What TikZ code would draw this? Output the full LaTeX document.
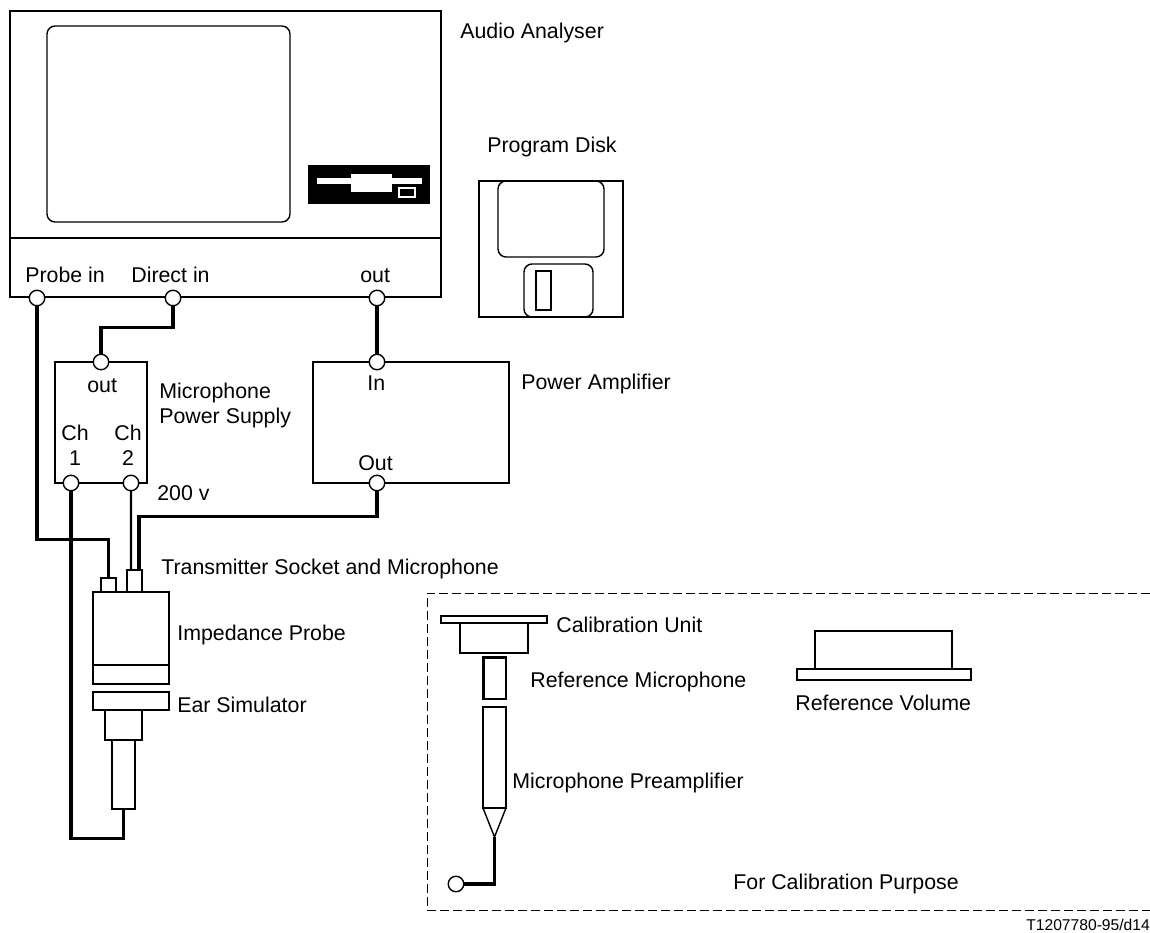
\documentclass[tikz,border=0pt]{standalone}
\usepackage{fontspec}
\setmainfont{Liberation Sans}
\usetikzlibrary{positioning}

\begin{document}
\begin{tikzpicture}[x=0.02cm, y=-0.02cm]

		\tikzstyle{part}=[rectangle, draw, line width=0.8pt, inner sep=0, outer sep=0]
		\tikzstyle{rnd}=[part, rounded corners=0.16cm]
		\tikzstyle{port}=[circle, draw, line width=0.8pt, fill=white, inner sep=0, outer sep=0, minimum size=0.31cm]
		\tikzstyle{wire}=[line width=1.9pt, line join=miter]
		\tikzstyle{lbl}=[anchor=base west, inner sep=0, yshift=-0.02cm, font=\fontsize{12.15}{14.2}\selectfont]

		\useasboundingbox (0,0) rectangle (1150,933);

		% Audio analyser
		\node[part, minimum width=8.62cm, minimum height=5.72cm] (analyser) at (225.5,154) {};
		\draw[line width=1.2pt] (analyser.west |- 0,238) -- (analyser.east |- 0,238);
		\node[rnd, minimum width=4.86cm, minimum height=3.92cm] (screen) at (168.5,124) {};
		\node[part, fill=black, minimum width=2.42cm, minimum height=0.76cm] (drive) at (369,184.5) {};
		\node[rectangle, fill=white, inner sep=0, minimum width=2.10cm, minimum height=0.12cm] (slit) at (369.5,181) {};
		\node[rectangle, fill=white, inner sep=0, minimum width=0.82cm, minimum height=0.36cm] (door) at (371.5,183) {};
		\node[rectangle, draw=white, fill=black, line width=0.6pt, inner sep=0, minimum width=0.32cm, minimum height=0.18cm] (led) at (407,192.5) {};

		% Program disk
		\node[part, minimum width=2.88cm, minimum height=2.72cm] (disk) at (551,249) {};
		\node[rnd, minimum width=2.12cm, minimum height=1.52cm] (label) at (551,219) {};
		\node[rnd, minimum width=1.38cm, minimum height=1.06cm] (shutter) at (558.5,290.5) {};
		\node[part, minimum width=0.30cm, minimum height=0.78cm] (slot) at (543.5,290.5) {};

		% Supply and amplifier
		\node[part, minimum width=1.84cm, minimum height=2.42cm] (supply) at (101,422.5) {};
		\node[part, minimum width=3.92cm, minimum height=2.42cm] (amp) at (411,422.5) {};

		% Probe and simulator
		\node[part, minimum width=0.30cm, minimum height=0.28cm] (plugp) at (108.5,585) {};
		\node[part, minimum width=0.30cm, minimum height=0.44cm] (plugt) at (134.5,581) {};
		\node[part, minimum width=1.52cm, minimum height=1.84cm] (probe) at (131,638) {};
		\draw[line width=1.6pt] (probe.west |- 0,665) -- (probe.east |- 0,665);
		\node[part, minimum width=1.52cm, minimum height=0.36cm] (ear) at (131,701) {};
		\node[part, minimum width=0.74cm, minimum height=0.60cm] (earneck) at (123.5,725) {};
		\node[part, minimum width=0.46cm, minimum height=1.38cm] (earstem) at (123.5,774.5) {};

		% Calibration parts
		\node[part, minimum width=2.12cm, minimum height=0.14cm] (calplate) at (494,619.5) {};
		\node[part, minimum width=1.36cm, minimum height=0.60cm] (calunit) at (494,638) {};
		\node[part, line width=1.7pt, minimum width=0.46cm, minimum height=0.84cm] (refmic) at (494.5,678) {};
		\node[part, minimum width=0.46cm, minimum height=2.02cm] (preamp) at (494.5,757.5) {};
		\coordinate (pretip) at (494.5,837);
		\draw[line width=0.8pt] (preamp.south west) -- (pretip) -- (preamp.south east);
		\node[part, minimum width=2.74cm, minimum height=0.76cm] (volume) at (883.5,650) {};
		\node[part, minimum width=3.48cm, minimum height=0.22cm] (volplate) at (884,674.5) {};

		% Frame, open on the right
		\draw[line width=0.5pt, dash pattern=on 5pt off 2.4pt] (1150,593) -- (427,593) -- (427,910) -- (1150,910);

		% Ports
		\node[port] (probein) at (37,298) {};
		\node[port] (directin) at (173,298) {};
		\node[port] (anaout) at (377,298) {};
		\node[port] (supout) at (101,362) {};
		\node[port] (ch1) at (71,483) {};
		\node[port] (ch2) at (131,483) {};
		\node[port] (ampin) at (377,362) {};
		\node[port] (ampout) at (377,483) {};
		\node[port] (calport) at (456,884) {};

		% Wires
		\draw[wire] (directin.south) -- ++(0,22) -| (supout.north);
		\draw[wire, line width=2.8pt] (anaout.south) -- (ampin.north);
		\draw[wire] (probein.south) -- ++(0,234) -| (plugp.north);
		\draw[wire] (ch1.south) -- ++(0,348) -| (earstem.south);
		\draw[wire, line width=1.2pt] (ch2.south) -- ([xshift=-0.07cm]plugt.north);
		\draw[wire] (ampout.south) -- ++(0,26) -| ([xshift=0.09cm]plugt.north);
		\draw[wire] (pretip) |- (calport.east);

		% Labels
		\node[lbl] (tanalyser) at (460,37) {Audio Analyser};
		\node[lbl] (tdisk) at (487,151) {Program Disk};
		\node[lbl] (tprobein) at (25,281) {Probe in};
		\node[lbl] (tdirectin) at (131,281) {Direct in};
		\node[lbl] (tanaout) at (360,281) {out};
		\node[lbl] (tsupout) at (87,391) {out};
		\node[lbl, align=left] (tsupply) at (159,422) {Microphone\\Power Supply};
		\node[lbl, align=center] (tch1) at (61,464) {Ch\\1};
		\node[lbl, align=center] (tch2) at (114,464) {Ch\\2};
		\node[lbl] (tvolt) at (157,499) {200 v};
		\node[lbl] (tampin) at (367,389) {In};
		\node[lbl] (tampout) at (358,469) {Out};
		\node[lbl] (tamp) at (521,388) {Power Amplifier};
		\node[lbl] (tplug) at (161,573) {Transmitter Socket and Microphone};
		\node[lbl] (tprobe) at (177,639) {Impedance Probe};
		\node[lbl] (tear) at (177,711) {Ear Simulator};
		\node[lbl] (tcal) at (556,631) {Calibration Unit};
		\node[lbl] (trefmic) at (530,686) {Reference Microphone};
		\node[lbl] (tvolume) at (795,709) {Reference Volume};
		\node[lbl] (tpreamp) at (512,787) {Microphone Preamplifier};
		\node[lbl] (tpurpose) at (733,888) {For Calibration Purpose};
		\node[lbl, font=\fontsize{8.9}{10}\selectfont] (tref) at (1026,929) {T1207780-95/d14};

\end{tikzpicture}
\end{document}
